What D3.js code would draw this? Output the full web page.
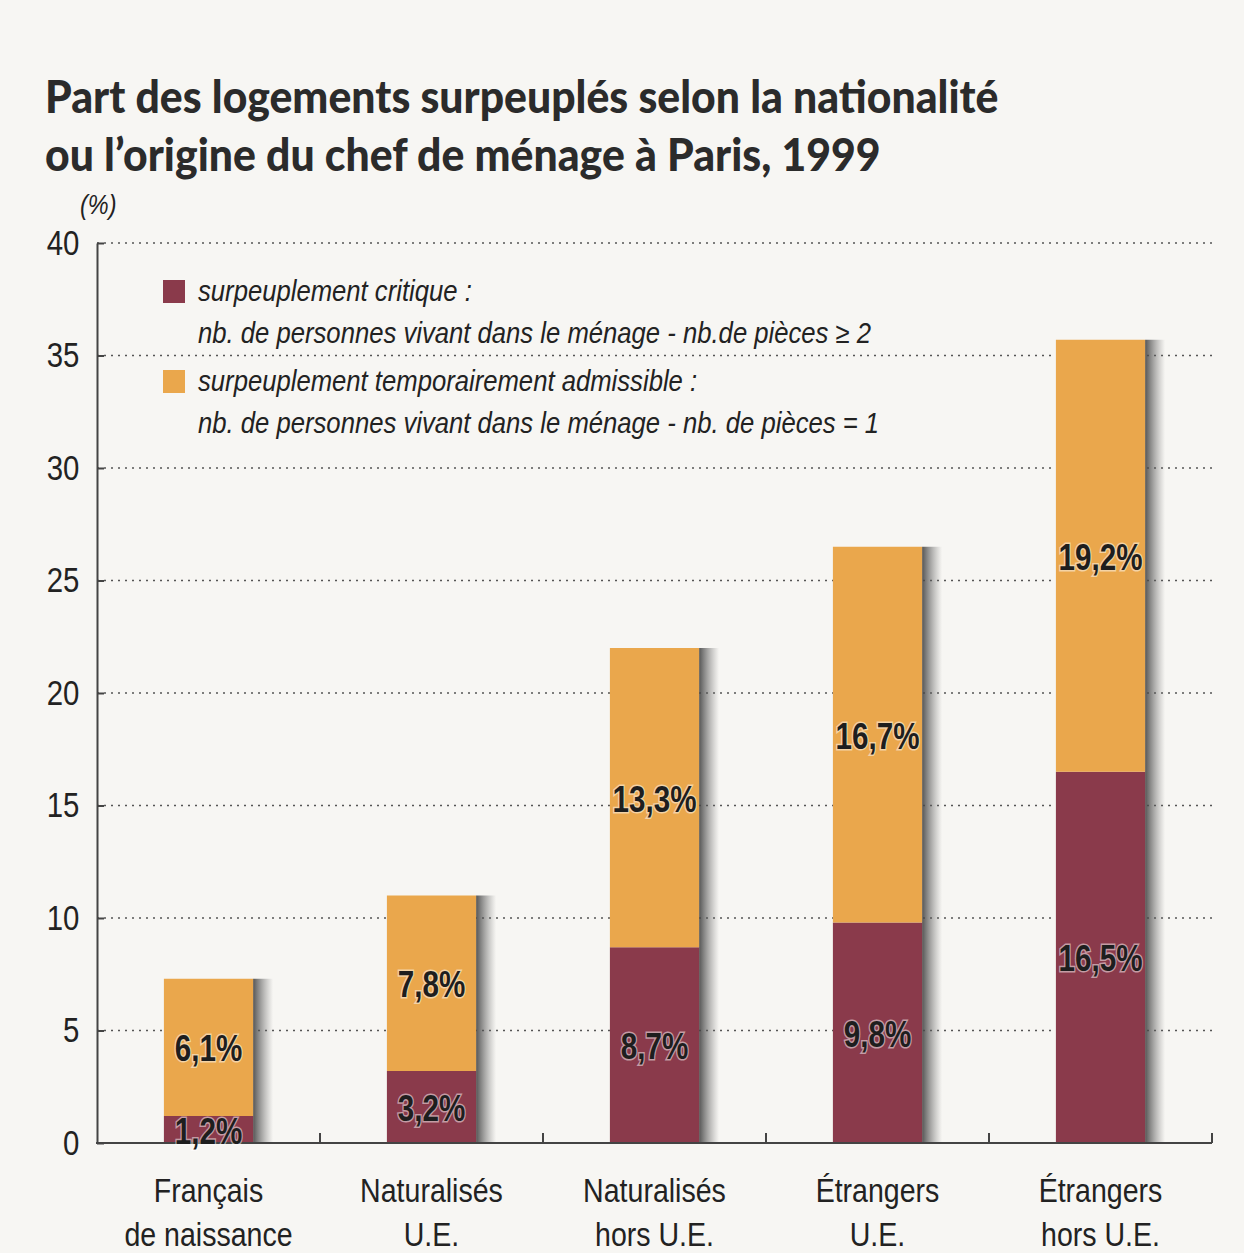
<!DOCTYPE html>
<html>
<head>
<meta charset="utf-8">
<script src="https://cdn.jsdelivr.net/npm/d3@7"></script>
<style>
  body { margin: 0; background: #f7f6f3; }
  svg { display: block; }
</style>
</head>
<body>
<script>
const w = 1244;
const h = 1253;

// data
const catLine1 = ["Français", "Naturalisés", "Naturalisés", "Étrangers", "Étrangers"];
const catLine2 = ["de naissance", "U.E.", "hors U.E.", "U.E.", "hors U.E."];
const critique = [1.2, 3.2, 8.7, 9.8, 16.5];
const temporaire = [6.1, 7.8, 13.3, 16.7, 19.2];
const yTicks = [0, 5, 10, 15, 20, 25, 30, 35, 40];
const seriesNames = ["critique", "temporaire"];
const colors = { critique: "#8a3a4b", temporaire: "#eaa74c" };

// no condensed font installed, so squeeze Liberation Sans horizontally
const sans = "'Liberation Sans', Arial, sans-serif";
const squeeze = 0.84;
const place = (x, y, k) => "translate(" + x + "," + y + ") scale(" + (k || squeeze) + ",1)";

const rows = catLine1.map((c, i) => ({
  key: i,
  critique: critique[i],
  temporaire: temporaire[i]
}));

const svg = d3.select("body").append("svg").attr("width", w).attr("height", h);

const defs = svg.append("defs");
const grad = defs.append("linearGradient").attr("id", "shadow");
grad.append("stop").attr("offset", "0%").attr("stop-color", "#444").attr("stop-opacity", 0.9);
grad.append("stop").attr("offset", "100%").attr("stop-color", "#777").attr("stop-opacity", 0);

// scales
const x = d3
  .scaleBand()
  .domain(rows.map((d) => d.key))
  .range([97, 1212])
  .paddingInner(0.6)
  .paddingOuter(0.3);

const y = d3.scaleLinear().domain([0, 40]).range([1143, 243]);

// title
svg
  .append("g")
  .attr("font-family", "Lato, 'DejaVu Sans', sans-serif")
  .attr("font-weight", 900)
  .attr("font-size", 45)
  .attr("fill", "#2b2b2b")
  .selectAll("text")
  .data([
    "Part des logements surpeuplés selon la nationalité",
    "ou l’origine du chef de ménage à Paris, 1999"
  ])
  .join("text")
  .attr("transform", (d, i) => place(45, 113 + i * 58, 0.95))
  .text((d) => d);

// gridlines
svg
  .append("g")
  .selectAll("line")
  .data(yTicks.filter((t) => t > 0))
  .join("line")
  .attr("x1", 97)
  .attr("x2", 1216)
  .attr("y1", (d) => y(d))
  .attr("y2", (d) => y(d))
  .attr("stroke", "#555")
  .attr("stroke-width", 1.3)
  .attr("stroke-dasharray", "2,5");

// y axis
const yAxis = d3.axisLeft(y).tickValues(yTicks).tickSize(-7).tickSizeOuter(0).tickPadding(21);
const gy = svg.append("g").attr("transform", "translate(97,0)").call(yAxis);
gy.select(".domain").attr("stroke", "#444").attr("stroke-width", 2);
gy.selectAll(".tick line").attr("stroke", "#444").attr("stroke-width", 2);
gy.selectAll(".tick text")
  .attr("font-family", sans)
  .attr("font-size", 35)
  .attr("fill", "#222")
  .attr("transform", "scale(" + squeeze + ",1)");

svg
  .append("text")
  .attr("transform", place(80, 214))
  .attr("font-family", sans)
  .attr("font-style", "italic")
  .attr("font-size", 28)
  .attr("fill", "#222")
  .text("(%)");

// stacked bars
const stacked = d3.stack().keys(seriesNames)(rows);
const bw = x.bandwidth();

// shadows to the right of each bar
svg
  .append("g")
  .selectAll("rect")
  .data(rows)
  .join("rect")
  .attr("x", (d) => x(d.key) + bw)
  .attr("y", (d) => y(d.critique + d.temporaire))
  .attr("width", 20)
  .attr("height", (d) => y(0) - y(d.critique + d.temporaire))
  .attr("fill", "url(#shadow)");

svg
  .append("g")
  .selectAll("g")
  .data(stacked)
  .join("g")
  .attr("fill", (s) => colors[s.key])
  .selectAll("rect")
  .data((s) => s)
  .join("rect")
  .attr("x", (d) => x(d.data.key))
  .attr("y", (d) => y(d[1]))
  .attr("width", bw)
  .attr("height", (d) => y(d[0]) - y(d[1]));

// x axis baseline and ticks between categories
const xLine = svg.append("g").attr("stroke", "#444").attr("stroke-width", 2);
xLine
  .append("line")
  .attr("x1", 96)
  .attr("x2", 1212)
  .attr("y1", y(0))
  .attr("y2", y(0));
xLine
  .selectAll(".bt")
  .data(rows)
  .join("line")
  .attr("x1", (d) => x(d.key) + bw / 2 + x.step() / 2)
  .attr("x2", (d) => x(d.key) + bw / 2 + x.step() / 2)
  .attr("y1", y(0))
  .attr("y2", y(0) - 10);

// value labels
const fmt = (v) => String(v).replace(".", ",") + "%";
svg
  .append("g")
  .attr("font-family", sans)
  .attr("font-weight", "bold")
  .attr("font-size", 37)
  .attr("text-anchor", "middle")
  .selectAll("g")
  .data(stacked)
  .join("g")
  .selectAll("text")
  .data((s) => s.map((d) => ({ d: d, v: d.data[s.key] })))
  .join("text")
  .attr("transform", (o) =>
    place(x(o.d.data.key) + bw / 2, (y(o.d[0]) + y(o.d[1])) / 2 + 14, 0.8)
  )
  .attr("fill", "#1e1e1e")
  .attr("stroke", "rgba(255,255,255,0.5)")
  .attr("stroke-width", 3)
  .attr("paint-order", "stroke")
  .text((o) => fmt(o.v));

// category labels
const cats = svg
  .append("g")
  .attr("font-family", sans)
  .attr("font-size", 34)
  .attr("fill", "#222")
  .attr("text-anchor", "middle");
[catLine1, catLine2].forEach((line, j) => {
  cats
    .append("g")
    .selectAll("text")
    .data(rows)
    .join("text")
    .attr("transform", (d) => place(x(d.key) + bw / 2, 1202 + j * 44))
    .text((d) => line[d.key]);
});

// legend
const legend = [
  ["critique", "surpeuplement critique :", "nb. de personnes vivant dans le ménage - nb.de pièces ≥ 2"],
  ["temporaire", "surpeuplement temporairement admissible :", "nb. de personnes vivant dans le ménage - nb. de pièces = 1"]
];
const lg = svg
  .append("g")
  .selectAll("g")
  .data(legend)
  .join("g")
  .attr("transform", (d, i) => "translate(163," + (280 + i * 90) + ")");
lg.append("rect").attr("width", 22).attr("height", 23).attr("fill", (d) => colors[d[0]]);
[1, 2].forEach((k) => {
  lg.append("text")
    .attr("transform", place(35, 21 + (k - 1) * 42, 0.885))
    .attr("font-family", sans)
    .attr("font-style", "italic")
    .attr("font-size", 29)
    .attr("fill", "#222")
    .text((d) => d[k]);
});
</script>
</body>
</html>
